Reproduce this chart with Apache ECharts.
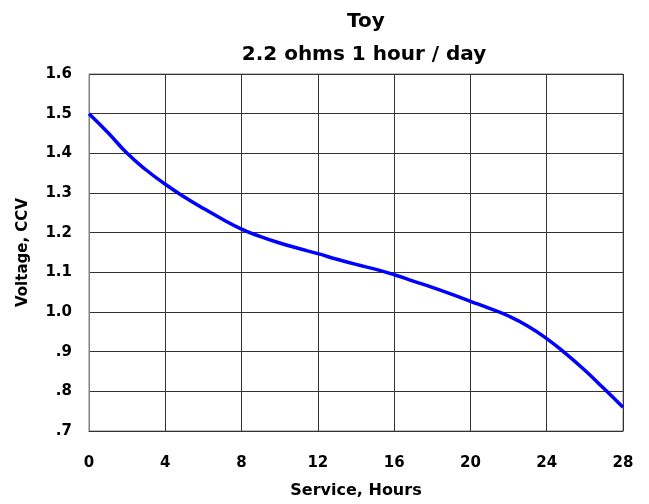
<!DOCTYPE html>
<html>
<head>
<meta charset="utf-8">
<script src="https://cdn.jsdelivr.net/npm/echarts@6/dist/echarts.min.js"></script>
<style>html,body{margin:0;padding:0;background:#fff}#c{width:649px;height:504px}</style>
</head>
<body>
<div id="c"></div>
<script>
var titleText = 'Toy';
var subtitleText = '2.2 ohms 1 hour / day';
var xName = 'Service, Hours';
var yName = 'Voltage, CCV';
var hours = [0,1,2,3,4,5,6,7,8,9,10,11,12,13,14,15,16,17,18,19,20,21,22,23,24,25,26,27,28];
var voltage = [1.50,1.452,1.40,1.358,1.322,1.29,1.261,1.234,1.209,1.19,1.174,1.16,1.147,1.133,1.12,1.108,1.094,1.078,1.062,1.045,1.027,1.009,0.99,0.965,0.933,0.895,0.853,0.807,0.76];

var FONT = 'DejaVu Sans';
var chart = echarts.init(document.getElementById('c'), null, {renderer:'canvas'});
var pts = hours.map(function(h,i){return [h, voltage[i]];});
chart.setOption({
  animation:false,
  backgroundColor:'#fff',
  title:[
    {text:titleText, left:361, top:7, textAlign:'center', textStyle:{fontFamily:FONT,fontWeight:'bold',fontSize:20,color:'#000'}},
    {text:subtitleText, left:359, top:40, textAlign:'center', textStyle:{fontFamily:FONT,fontWeight:'bold',fontSize:20,color:'#000'}}
  ],
  grid:{left:89,right:26,top:74,bottom:70,show:true,borderColor:'#808080',borderWidth:1,backgroundColor:'transparent'},
  xAxis:{type:'value',min:0,max:28,interval:4,
    name:xName,nameLocation:'middle',nameGap:52,
    nameTextStyle:{fontFamily:FONT,fontWeight:'bold',fontSize:16,color:'#000'},
    axisLine:{show:true,lineStyle:{color:'#333',width:1}},
    axisTick:{show:false},
    axisLabel:{margin:25,fontFamily:FONT,fontWeight:'bold',fontSize:15,color:'#000'},
    splitLine:{show:true,lineStyle:{color:'#333',width:1}}
  },
  yAxis:{type:'value',min:0.7,max:1.6,interval:0.1,
    name:yName,nameLocation:'middle',nameGap:58,nameRotate:90,
    nameTextStyle:{fontFamily:FONT,fontWeight:'bold',fontSize:15,color:'#000'},
    axisLine:{show:true,lineStyle:{color:'#808080',width:1}},
    axisTick:{show:false},
    axisLabel:{margin:17,fontFamily:FONT,fontWeight:'bold',fontSize:15,color:'#000',
      formatter:function(v){var r=Math.round(v*10)/10; return r<1 ? '.'+Math.round(r*10) : r.toFixed(1);}},
    splitLine:{show:true,lineStyle:{color:'#333',width:1}}
  },
  series:[{type:'line',data:pts,smooth:true,showSymbol:false,symbol:'none',
    lineStyle:{color:'#0000FF',width:3.5},clip:true}]
});
</script>
</body>
</html>
